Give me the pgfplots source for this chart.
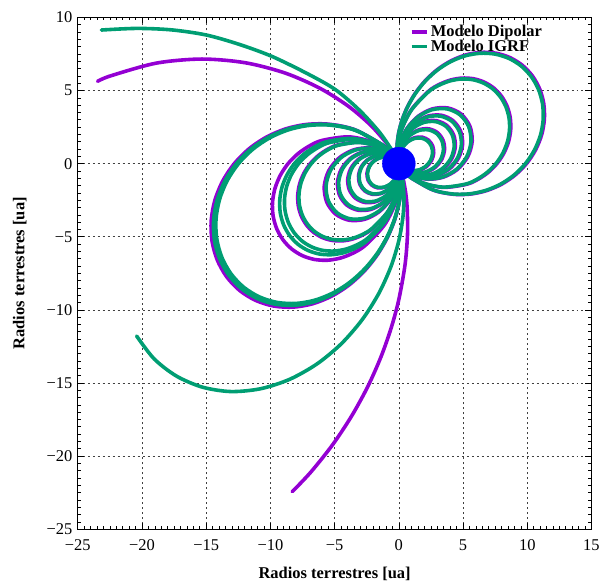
\documentclass[border=0pt]{standalone}
\usepackage{pgfplots}
\pgfplotsset{compat=1.18}
\usepackage{fontspec}
\setmainfont{Liberation Serif}

\definecolor{dipcol}{RGB}{148,0,211}
\definecolor{igrfcol}{RGB}{0,158,115}
\definecolor{earthcol}{RGB}{0,0,255}

\newcommand{\figfont}{\fontsize{16.5bp}{19.5bp}\selectfont}

\pgfplotsset{
  dip/.style={color=dipcol, line width=3.6bp, smooth, line join=round, line cap=round},
  igrf/.style={color=igrfcol, line width=3.6bp, smooth, line join=round, line cap=round},
}

\begin{document}
\begin{tikzpicture}[font=\figfont]
\begin{axis}[
  scale only axis,
  width=515bp, height=513bp,
  xmin=-25, xmax=15, ymin=-25, ymax=10,
  xtick={-25,-20,-15,-10,-5,0,5,10,15},
  xticklabels={−25,−20,−15,−10,−5,0,5,10,15},
  ytick={-25,-20,-15,-10,-5,0,5,10},
  yticklabels={−25,−20,−15,−10,−5,0,5,10},
  minor x tick num=9, minor y tick num=9,
  tick align=inside,
  major tick length=6bp, minor tick length=3bp,
  tick style={black, line width=0.6bp},
  axis line style={black, line width=0.8bp},
  tick label style={font=\figfont},
  grid=major,
  major grid style={black!75, line width=0.6bp, dash pattern=on 2bp off 3bp},
  xlabel={\textbf{Radios terrestres [ua]}},
  ylabel={\textbf{Radios terrestres [ua]}},
  label style={font=\figfont},
  xlabel style={at={(axis description cs:0.5,-0.088)}, anchor=center},
  ylabel style={at={(axis description cs:-0.113,0.5)}, anchor=center},
  xticklabel style={yshift=-7bp},
  yticklabel style={xshift=-2bp},
  legend style={at={(axis description cs:0.646,0.99)}, anchor=north west,
    draw=none, fill=none, font=\figfont\bfseries, row sep=-3bp, inner sep=0pt,
    nodes={inner sep=2.5bp}},
  legend cell align=left,
  legend image code/.code={\draw[#1, line cap=butt] (0bp,0bp) -- (15bp,0bp);},
]

% ---- dipole model: loops on the night side
\addplot[dip] coordinates {(-0.643,0.766) (-1.290,1.290) (-3.195,2.237) (-4.444,2.566) (-5.842,2.724) (-7.329,2.668) (-8.842,2.370) (-10.308,1.817) (-11.656,1.020) (-12.814,0) (-13.722,-1.201) (-14.333,-2.527) (-14.613,-3.916) (-14.549,-5.295) (-14.138,-6.593) (-13.407,-7.741) (-12.394,-8.678) (-11.149,-9.355) (-9.741,-9.741) (-8.237,-9.816) (-6.711,-9.585) (-5.234,-9.065) (-3.869,-8.296) (-2.668,-7.329) (-1.668,-6.226) (-0.891,-5.054) (-0.340,-3.886) (0,-2.786) (0.159,-1.819) (0.174,-0.985)};
\addlegendentry{Modelo Dipolar}
\addplot[dip, forget plot] coordinates {(-0.682,0.731) (-0.868,0.868) (-2.150,1.506) (-3.932,1.833) (-5.951,1.595) (-6.938,1.223) (-7.846,0.687) (-8.625,0) (-9.236,-0.809) (-9.647,-1.701) (-9.835,-2.636) (-9.792,-3.564) (-9.516,-4.437) (-9.024,-5.210) (-8.342,-5.841) (-7.504,-6.297) (-6.556,-6.556) (-5.544,-6.607) (-4.517,-6.451) (-3.523,-6.102) (-2.604,-5.584) (-1.122,-4.191) (-0.229,-2.616) (0.107,-1.224) (0.122,-0.993)};
\addplot[dip, forget plot] coordinates {(-0.707,0.707) (-1.720,1.205) (-3.146,1.467) (-4.761,1.276) (-5.551,0.979) (-6.276,0.549) (-6.900,0) (-7.389,-0.647) (-7.718,-1.361) (-7.868,-2.108) (-7.834,-2.851) (-7.613,-3.550) (-7.219,-4.168) (-6.674,-4.673) (-6.003,-5.037) (-5.245,-5.245) (-4.435,-5.285) (-3.614,-5.161) (-2.818,-4.881) (-2.083,-4.467) (-0.898,-3.352) (-0.183,-2.092) (0.087,-0.996)};
\addplot[dip, forget plot] coordinates {(-0.755,0.656) (-1.270,0.889) (-2.322,1.083) (-3.514,0.942) (-4.633,0.405) (-5.454,-0.477) (-5.808,-1.556) (-5.619,-2.620) (-4.926,-3.449) (-3.871,-3.871) (-2.667,-3.809) (-1.538,-3.297) (-0.663,-2.474) (-0.135,-1.544) (0.017,-1.0)};
\addplot[dip, forget plot] coordinates {(-0.783,0.623) (-1.044,0.731) (-1.910,0.890) (-2.891,0.775) (-3.811,0.334) (-4.486,-0.393) (-4.777,-1.280) (-4.622,-2.155) (-4.052,-2.837) (-3.184,-3.184) (-2.194,-3.133) (-1.265,-2.712) (-0.545,-2.035) (-0.111,-1.270) (-0.026,-1.0)};
\addplot[dip, forget plot] coordinates {(-0.870,0.609) (-1.592,0.742) (-2.409,0.646) (-3.176,0.278) (-3.738,-0.327) (-3.981,-1.067) (-3.852,-1.796) (-3.377,-2.364) (-2.654,-2.654) (-1.828,-2.611) (-1.054,-2.260) (-0.454,-1.696) (-0.093,-1.059)};
\addplot[dip, forget plot] coordinates {(-0.848,0.530) (-1.255,0.585) (-1.899,0.509) (-2.503,0.219) (-2.947,-0.258) (-3.138,-0.841) (-3.036,-1.416) (-2.662,-1.864) (-2.092,-2.092) (-1.441,-2.058) (-0.831,-1.782) (-0.358,-1.337) (-0.139,-0.990)};
\addplot[dip, forget plot] coordinates {(-0.992,0.463) (-1.502,0.403) (-1.980,0.173) (-2.331,-0.204) (-2.482,-0.665) (-2.402,-1.120) (-2.105,-1.474) (-1.655,-1.655) (-1.140,-1.628) (-0.657,-1.409) (-0.283,-1.058)};
% ---- dipole model: loops on the day side
\addplot[dip, forget plot] coordinates {(0.667,-0.746) (1.001,-1.001) (2.478,-1.735) (3.447,-1.990) (4.531,-2.113) (5.685,-2.069) (6.858,-1.838) (7.996,-1.410) (9.041,-0.791) (9.939,0) (10.643,0.932) (11.117,1.960) (11.334,3.037) (11.284,4.107) (10.966,5.113) (10.399,6.004) (9.613,6.731) (8.648,7.256) (7.555,7.555) (6.389,7.613) (5.205,7.434) (4.060,7.031) (3.001,6.435) (2.069,5.685) (1.293,4.829) (0.691,3.920) (0.264,3.014) (0,2.161) (-0.123,1.411) (-0.143,0.990)};
\addplot[dip, forget plot] coordinates {(0.698,-0.716) (1.905,-1.334) (3.483,-1.624) (5.271,-1.413) (6.145,-1.083) (6.949,-0.608) (7.639,0) (8.180,0.716) (8.545,1.507) (8.711,2.334) (8.673,3.156) (8.429,3.930) (7.992,4.615) (7.389,5.174) (6.647,5.577) (5.807,5.807) (4.910,5.852) (4.001,5.714) (3.120,5.404) (2.306,4.946) (0.994,3.712) (0.203,2.317) (-0.100,0.995)};
\addplot[dip, forget plot] coordinates {(0.756,-0.655) (1.249,-0.875) (2.284,-1.065) (3.457,-0.927) (4.558,-0.399) (5.366,0.470) (5.714,1.531) (5.528,2.578) (4.846,3.393) (3.809,3.809) (2.624,3.748) (1.513,3.244) (0.652,2.435) (0.133,1.520) (-0.016,1.0)};
\addplot[dip, forget plot] coordinates {(0.777,-0.629) (1.085,-0.760) (1.985,-0.925) (3.004,-0.805) (3.960,-0.347) (4.662,0.408) (4.965,1.330) (4.803,2.240) (4.211,2.948) (3.309,3.309) (2.280,3.256) (1.314,2.819) (0.567,2.115) (0.116,1.320) (0.017,1.0)};
\addplot[dip, forget plot] coordinates {(0.797,-0.605) (0.963,-0.674) (1.760,-0.821) (2.664,-0.714) (3.512,-0.307) (4.134,0.362) (4.402,1.180) (4.260,1.986) (3.734,2.615) (2.935,2.935) (2.022,2.888) (1.166,2.499) (0.502,1.876) (0.102,1.171) (0.049,0.999)};
\addplot[dip, forget plot] coordinates {(0.832,-0.555) (1.083,-0.625) (1.423,-0.663) (2.154,-0.577) (2.839,-0.249) (3.342,0.293) (3.559,0.954) (3.444,1.606) (3.019,2.114) (2.373,2.373) (1.635,2.335) (0.942,2.021) (0.406,1.517) (0.217,1.231) (0.110,0.994)};
\addplot[dip, forget plot] coordinates {(0.881,-0.474) (1.086,-0.506) (1.644,-0.441) (2.167,-0.190) (2.551,0.223) (2.716,0.728) (2.628,1.226) (2.304,1.613) (1.811,1.811) (1.248,1.782) (0.719,1.542) (0.310,1.157) (0.203,0.979)};
% ---- dipole model: open lines
\addplot[dip, forget plot] coordinates {(-0.522,0.853) (-1.057,1.509) (-2.234,2.663) (-3.929,3.929) (-6.146,5.157) (-8.847,6.195) (-11.95,6.90) (-15.34,7.155) (-18.89,6.875) (-22.43,6.009) (-23.46,5.63)};
\addplot[dip, forget plot] coordinates {(0.322,-0.947) (0.528,-1.97) (0.647,-3.04) (0.676,-4.81) (0.484,-6.91) (0,-9.29) (-0.587,-11.21) (-1.388,-13.21) (-2.413,-15.24) (-3.667,-17.25) (-5.150,-19.22) (-6.854,-21.10) (-8.30,-22.44)};

% ---- IGRF model: loops on the night side
\addplot[igrf] coordinates {(-0.643,0.766) (-1.257,1.257) (-3.113,2.180) (-4.330,2.500) (-5.692,2.654) (-7.141,2.599) (-8.615,2.309) (-10.044,1.771) (-11.357,0.994) (-12.485,0) (-13.370,-1.170) (-13.966,-2.462) (-14.238,-3.815) (-14.176,-5.159) (-13.776,-6.424) (-13.063,-7.542) (-12.076,-8.456) (-10.863,-9.115) (-9.491,-9.491) (-8.026,-9.564) (-6.539,-9.339) (-5.100,-8.833) (-3.770,-8.083) (-2.599,-7.141) (-1.625,-6.066) (-0.868,-4.925) (-0.331,-3.786) (0,-2.715) (0.155,-1.772) (0.174,-0.985)};
\addlegendentry{Modelo IGRF}
\addplot[igrf, forget plot] coordinates {(-0.643,0.766) (-1.274,1.274) (-3.154,2.208) (-4.387,2.533) (-5.767,2.689) (-7.235,2.633) (-8.729,2.339) (-10.176,1.794) (-11.507,1.007) (-12.650,0) (-13.546,-1.186) (-14.150,-2.495) (-14.425,-3.865) (-14.362,-5.227) (-13.957,-6.508) (-13.235,-7.641) (-12.235,-8.567) (-11.006,-9.235) (-9.616,-9.616) (-8.131,-9.690) (-6.625,-9.462) (-5.167,-8.949) (-3.819,-8.190) (-2.633,-7.235) (-1.646,-6.146) (-0.879,-4.990) (-0.336,-3.836) (0,-2.750) (0.157,-1.796) (0.174,-0.985)};
\addplot[igrf, forget plot] coordinates {(-0.695,0.719) (-0.819,0.819) (-2.028,1.420) (-3.708,1.729) (-5.611,1.504) (-6.542,1.153) (-7.397,0.647) (-8.132,0) (-8.708,-0.762) (-9.096,-1.604) (-9.273,-2.485) (-9.233,-3.360) (-8.972,-4.184) (-8.508,-4.912) (-7.866,-5.507) (-7.076,-5.937) (-6.182,-6.182) (-5.227,-6.229) (-4.259,-6.083) (-3.321,-5.753) (-2.455,-5.265) (-1.058,-3.951) (-0.216,-2.466) (0.101,-1.154) (0.105,-0.995)};
\addplot[igrf, forget plot] coordinates {(-0.695,0.719) (-1.946,1.362) (-3.558,1.659) (-5.385,1.443) (-6.278,1.107) (-7.098,0.621) (-7.803,0) (-8.356,-0.732) (-8.729,-1.539) (-8.899,-2.385) (-8.860,-3.224) (-8.610,-4.015) (-8.164,-4.714) (-7.548,-5.285) (-6.790,-5.697) (-5.932,-5.932) (-5.016,-5.977) (-4.087,-5.837) (-3.187,-5.520) (-2.356,-5.052) (-1.016,-3.791) (-0.207,-2.366) (0.105,-0.995)};
\addplot[igrf, forget plot] coordinates {(-0.707,0.707) (-1.700,1.190) (-3.108,1.449) (-4.704,1.261) (-5.485,0.967) (-6.202,0.543) (-6.818,0) (-7.301,-0.639) (-7.626,-1.345) (-7.775,-2.083) (-7.741,-2.817) (-7.522,-3.508) (-7.133,-4.118) (-6.594,-4.617) (-5.932,-4.978) (-5.183,-5.183) (-4.382,-5.222) (-3.571,-5.100) (-2.785,-4.823) (-2.058,-4.414) (-0.887,-3.313) (-0.181,-2.068) (0.087,-0.996)};
\addplot[igrf, forget plot] coordinates {(-0.755,0.656) (-1.239,0.868) (-2.266,1.056) (-3.429,0.919) (-4.521,0.396) (-5.322,-0.466) (-5.667,-1.519) (-5.483,-2.557) (-4.807,-3.366) (-3.778,-3.778) (-2.603,-3.717) (-1.500,-3.217) (-0.647,-2.415) (-0.132,-1.507) (0.017,-1.0)};
\addplot[igrf, forget plot] coordinates {(-0.783,0.623) (-1.024,0.717) (-1.873,0.873) (-2.834,0.760) (-3.736,0.327) (-4.398,-0.385) (-4.684,-1.255) (-4.532,-2.113) (-3.973,-2.782) (-3.122,-3.122) (-2.151,-3.072) (-1.240,-2.659) (-0.535,-1.996) (-0.109,-1.246) (-0.026,-1.0)};
\addplot[igrf, forget plot] coordinates {(-0.850,0.595) (-1.554,0.725) (-2.352,0.630) (-3.101,0.271) (-3.650,-0.320) (-3.887,-1.042) (-3.761,-1.754) (-3.297,-2.309) (-2.591,-2.591) (-1.785,-2.550) (-1.029,-2.207) (-0.444,-1.656) (-0.090,-1.034)};
\addplot[igrf, forget plot] coordinates {(-0.848,0.530) (-1.236,0.576) (-1.870,0.501) (-2.466,0.216) (-2.903,-0.254) (-3.091,-0.828) (-2.991,-1.395) (-2.622,-1.836) (-2.061,-2.061) (-1.420,-2.028) (-0.818,-1.755) (-0.353,-1.317) (-0.139,-0.990)};
\addplot[igrf, forget plot] coordinates {(-0.974,0.454) (-1.474,0.395) (-1.943,0.170) (-2.287,-0.200) (-2.435,-0.653) (-2.356,-1.099) (-2.066,-1.446) (-1.623,-1.623) (-1.119,-1.597) (-0.645,-1.383) (-0.278,-1.038)};
% ---- IGRF model: loops on the day side
\addplot[igrf, forget plot] coordinates {(0.667,-0.746) (0.992,-0.992) (2.458,-1.721) (3.419,-1.974) (4.494,-2.095) (5.638,-2.052) (6.802,-1.823) (7.930,-1.398) (8.966,-0.785) (9.857,0) (10.555,0.924) (11.026,1.944) (11.240,3.012) (11.191,4.073) (10.876,5.071) (10.313,5.954) (9.534,6.676) (8.576,7.196) (7.493,7.493) (6.336,7.550) (5.162,7.373) (4.026,6.973) (2.976,6.382) (2.052,5.638) (1.283,4.789) (0.685,3.888) (0.262,2.989) (0,2.143) (-0.122,1.399) (-0.143,0.990)};
\addplot[igrf, forget plot] coordinates {(0.698,-0.716) (1.884,-1.319) (3.445,-1.606) (5.215,-1.397) (6.079,-1.072) (6.874,-0.602) (7.557,0) (8.092,0.708) (8.453,1.490) (8.618,2.309) (8.580,3.122) (8.338,3.888) (7.906,4.565) (7.309,5.118) (6.575,5.517) (5.744,5.744) (4.858,5.789) (3.958,5.652) (3.087,5.346) (2.282,4.893) (0.983,3.672) (0.201,2.292) (-0.100,0.995)};
\addplot[igrf, forget plot] coordinates {(0.756,-0.655) (1.229,-0.860) (2.247,-1.048) (3.401,-0.911) (4.483,-0.392) (5.278,0.462) (5.620,1.506) (5.438,2.536) (4.767,3.338) (3.746,3.746) (2.581,3.686) (1.488,3.191) (0.641,2.395) (0.131,1.495) (-0.016,1.0)};
\addplot[igrf, forget plot] coordinates {(0.777,-0.629) (1.065,-0.746) (1.947,-0.908) (2.947,-0.790) (3.885,-0.340) (4.574,0.400) (4.871,1.305) (4.713,2.198) (4.131,2.893) (3.247,3.247) (2.237,3.195) (1.290,2.765) (0.556,2.075) (0.113,1.295) (0.017,1.0)};
\addplot[igrf, forget plot] coordinates {(0.797,-0.605) (0.942,-0.660) (1.723,-0.803) (2.607,-0.699) (3.437,-0.301) (4.046,0.354) (4.309,1.155) (4.169,1.944) (3.655,2.559) (2.872,2.872) (1.979,2.826) (1.141,2.446) (0.492,1.836) (0.100,1.146) (0.049,0.999)};
\addplot[igrf, forget plot] coordinates {(0.832,-0.555) (1.054,-0.609) (1.386,-0.646) (2.097,-0.562) (2.765,-0.242) (3.255,0.285) (3.466,0.929) (3.353,1.564) (2.940,2.058) (2.310,2.310) (1.592,2.273) (0.918,1.968) (0.396,1.477) (0.211,1.199) (0.110,0.994)};
\addplot[igrf, forget plot] coordinates {(0.881,-0.474) (1.049,-0.489) (1.587,-0.425) (2.092,-0.183) (2.463,0.216) (2.623,0.703) (2.538,1.183) (2.225,1.558) (1.748,1.748) (1.205,1.720) (0.694,1.489) (0.299,1.117) (0.203,0.979)};
% ---- IGRF model: open lines
\addplot[igrf, forget plot] coordinates {(-0.497,0.868) (-1.49,2.13) (-3.06,3.65) (-4.92,5.05) (-7.0,6.10) (-9.84,7.32) (-12.4,8.15) (-15.0,8.8) (-17.7,9.15) (-20.4,9.25) (-23.16,9.14)};
\addplot[igrf, forget plot] coordinates {(0.281,-0.960) (0.40,-2.27) (0.319,-3.646) (0,-5.27) (-0.617,-7.05) (-1.567,-8.888) (-2.86,-10.68) (-4.49,-12.33) (-6.39,-13.71) (-8.52,-14.76) (-10.78,-15.40) (-13.08,-15.59) (-15.29,-15.29) (-17.32,-14.53) (-19.06,-13.35) (-20.42,-11.79)};

% ---- the Earth
\addplot[only marks, mark=*, mark size=16.5bp, color=earthcol, forget plot] coordinates {(0,0)};
\end{axis}
\path ([shift={(-78bp,-55bp)}]current axis.south west) rectangle ([shift={(10bp,17.5bp)}]current axis.north east);
\end{tikzpicture}
\end{document}
